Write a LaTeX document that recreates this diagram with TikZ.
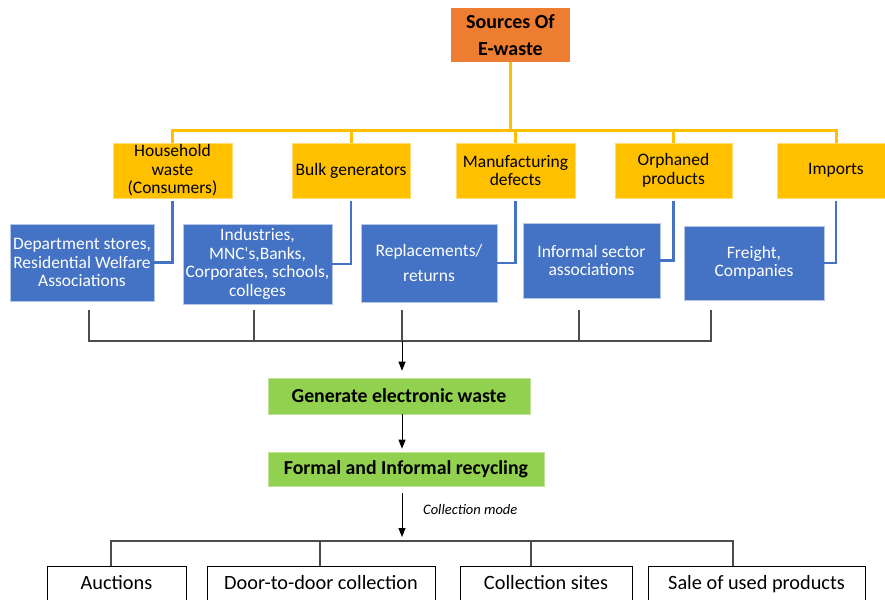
\documentclass[tikz,border=0pt]{standalone}
\usepackage{fontspec}
\setmainfont{Carlito}
\usetikzlibrary{arrows.meta}
\definecolor{eorange}{HTML}{ED7D31}
\definecolor{eyellow}{HTML}{FFC000}
\definecolor{eblue}{HTML}{4472C4}
\definecolor{egreen}{HTML}{92D050}
\begin{document}
\begin{tikzpicture}[x=1pt,y=-1pt,
  srcbox/.style={fill=eorange, minimum width=119pt, minimum height=54pt, inner sep=0pt, align=center, font=\bfseries\fontsize{20}{27}\selectfont},
  ybox/.style={fill=eyellow, draw=eyellow!55!white, line width=0.6pt, minimum height=55pt, inner sep=0pt, align=center, font=\fontsize{17.5}{18.5}\selectfont},
  bbox/.style={fill=eblue, draw=eblue!40!white, line width=0.6pt, inner sep=0pt, align=center, text=white, font=\fontsize{17.5}{18.5}\selectfont},
  gbox/.style={fill=egreen, draw=egreen!60!white, line width=0.6pt, inner sep=0pt, font=\bfseries\fontsize{19.8}{22}\selectfont},
  wbox/.style={draw=black, line width=0.9pt, fill=white, anchor=north, inner xsep=0pt, inner ysep=0pt, text height=23pt, text depth=30pt, font=\fontsize{20.3}{22}\selectfont},
  yline/.style={draw=eyellow, line width=3pt, line join=miter},
  bline/.style={draw=eblue, line width=2.5pt, line join=miter},
  gline/.style={draw=black!70, line width=1.2pt, line join=miter},
  arr/.style={draw=black, line width=1pt, -{Triangle[length=9pt,width=7pt]}},
]
\useasboundingbox (0,0) rectangle (885,599);
\clip (0,0) rectangle (885,599);

% top
\node[srcbox] (src) at (510.5,35) {Sources Of\\E-waste};

% yellow categories
\node[ybox, minimum width=119pt] (hh) at (172.5,170.5) {Household\\waste\\(Consumers)};
\node[ybox, minimum width=118pt] (bulk) at (351,170.5) {Bulk generators};
\node[ybox, minimum width=119pt] (mfg) at (515.5,170.5) {Manufacturing\\defects};
\node[ybox, minimum width=117pt] (orph) at (673.5,170.5) {Orphaned\\products};
\node[ybox, minimum width=118pt] (imp) at (836,170.5) {Imports};

% blue boxes
\node[bbox, minimum width=144pt, minimum height=77pt] (dept) at (82,262.5) {Department stores,\\Residential Welfare\\Associations};
\node[bbox, minimum width=149pt, minimum height=80pt] (ind) at (257.5,264) {Industries,\\MNC\textquotesingle s,Banks,\\Corporates, schools,\\colleges};
\node[bbox, minimum width=136pt, minimum height=78pt] (rep) at (429,263) {Replacements/\\[7pt]returns};
\node[bbox, minimum width=137pt, minimum height=75pt] (inf) at (591.5,260.5) {Informal sector\\associations};
\node[bbox, minimum width=140pt, minimum height=74pt] (frt) at (754,263) {Freight,\\Companies};

% green boxes
\node[gbox, minimum width=262pt, minimum height=36pt] (g1) at (399,396) {Generate electronic waste};
\node[gbox, minimum width=276pt, minimum height=34pt] (g2) at (406,469) {Formal and Informal recycling};

% bottom boxes
\node[wbox, minimum width=139pt] (auc) at (116.5,566) {Auctions};
\node[wbox, minimum width=228pt] (door) at (321,566) {Door-to-door collection};
\node[wbox, minimum width=172pt] (site) at (546,566) {Collection sites};
\node[wbox, minimum width=217pt] (sale) at (756.5,566) {Sale of used products};

% yellow tree
\coordinate (ytop) at (510.5,130);
\draw[yline] (src.south) -- (ytop);
\draw[yline] (hh.north) -- (hh.north |- ytop) -- (imp.north |- ytop) -- (imp.north);
\draw[yline] (bulk.north) -- (bulk.north |- ytop);
\draw[yline] (mfg.north) -- (mfg.north |- ytop);
\draw[yline] (orph.north) -- (orph.north |- ytop);

% blue connectors
\draw[bline, shorten <=3pt] (hh.south) |- (dept.east);
\draw[bline, shorten <=3pt] (bulk.south) |- (ind.east);
\draw[bline, shorten <=3pt] (mfg.south) |- (rep.east);
\draw[bline, shorten <=3pt] (orph.south) |- (inf.east);
\draw[bline, shorten <=3pt] (imp.south) |- (frt.east);

% bracket
\coordinate (b1) at (89,310);
\coordinate (b2) at (254,310);
\coordinate (b3) at (402,310);
\coordinate (b4) at (579,310);
\coordinate (b5) at (711,310);
\coordinate (m) at (402,341);
\draw[gline] (b1) -- (b1 |- m) -- (b5 |- m) -- (b5);
\draw[gline] (b2) -- (b2 |- m);
\draw[gline] (b3) -- (m);
\draw[gline] (b4) -- (b4 |- m);
\draw[arr, shorten >=7pt] (m) -- (m |- g1.north);
\draw[arr, shorten >=3pt] (g1.south -| m) -- (g2.north -| m);

% collection mode
\coordinate (m2) at (402,541);
\draw[arr, shorten <=7pt, shorten >=4pt] (g2.south -| m2) -- (m2);
\node[font=\itshape\fontsize{14.5}{16}\selectfont, anchor=west, inner sep=0pt] (cm) at (423,510) {Collection mode};

\coordinate (c1) at (111,541);
\coordinate (c2) at (320,541);
\coordinate (c3) at (531,541);
\coordinate (c4) at (733,541);
\draw[gline, line width=1.1pt] (c1 |- auc.north) -- (c1) -- (c4) -- (c4 |- sale.north);
\draw[gline, line width=1.1pt] (c2) -- (c2 |- door.north);
\draw[gline, line width=1.1pt] (c3) -- (c3 |- site.north);
\end{tikzpicture}
\end{document}
